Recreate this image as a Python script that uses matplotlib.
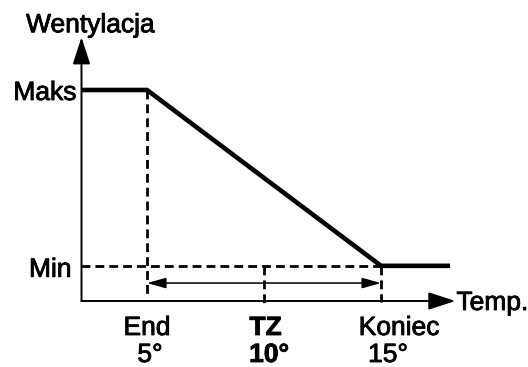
import matplotlib
matplotlib.use("Agg")
import matplotlib.pyplot as plt
import matplotlib.patheffects as pe

plt.rcParams['font.family'] = ['Liberation Sans', 'DejaVu Sans']

# dane wykresu
temp_names = ["End", "TZ", "Koniec"]
temp_values = [5, 10, 15]
temp_bold = [False, True, False]
vent_names = ["Min", "Maks"]
vent_levels = [1, 6]
title_y = "Wentylacja"
title_x = "Temp."

t_end, t_tz, t_kon = temp_values
v_min, v_max = vent_levels

# zakres osi (uklad rysunku)
T0, T1 = 2.2, 18.18      # os pozioma: od osi pionowej do grotu
V1 = 7.5                 # grot osi pionowej
T_TAIL = 17.95           # koniec poziomego odcinka Min
FS = 19

fig = plt.figure(figsize=(5.28, 3.67), dpi=100)
ax = fig.add_axes([0, 0, 1, 1])
ax.set_xlim(-1.282, 21.28)
ax.set_ylim(-1.877, 8.559)
ax.axis('off')

# osie ze strzalkami
axis_arrow = dict(arrowstyle='-|>,head_length=1.66,head_width=0.54', mutation_scale=10,
                  lw=1.4, color='black', shrinkA=0, shrinkB=0)
ax.annotate('', xy=(T0, V1), xytext=(T0, 0), arrowprops=axis_arrow)
ax.annotate('', xy=(T1, 0), xytext=(T0, 0), arrowprops=axis_arrow)

# linie przerywane
dash = dict(color='black', lw=2.0, linestyle=(0, (3.2, 1.8)))
ax.plot([T0, t_kon], [v_min, v_min], **dash)
ax.plot([t_end, t_end], [v_max, 0.17], **dash)
ax.plot([t_tz, t_tz], [v_min, -0.06], **dash)
ax.plot([t_kon, t_kon], [v_min, -0.03], **dash)

# charakterystyka wentylacji
ax.plot([T0, t_end, t_kon, T_TAIL], [v_max, v_max, v_min, v_min],
        color='black', lw=3.3, solid_joinstyle='miter', solid_capstyle='butt')

# strzalka zakresu End - Koniec
ax.annotate('', xy=(t_kon, 0.51), xytext=(t_end, 0.51),
            arrowprops=dict(arrowstyle='<|-|>,head_length=1.15,head_width=0.32',
                            mutation_scale=10, lw=1.1, color='black',
                            shrinkA=0, shrinkB=0))

# opisy
heavy = [pe.withStroke(linewidth=0.6, foreground='black')]

def label(text, xy, off, ha, bold=False):
    ax.annotate(text, xy=xy, xytext=off, textcoords='offset pixels',
                ha=ha, va='baseline', fontsize=FS,
                fontweight='bold' if bold else 'normal', path_effects=heavy)

label(title_y, (T0, V1), (9, 5), 'center')
label(title_x, (T1, 0), (1, -9), 'left')
label(vent_names[1], (T0, v_max), (-5, -10), 'right')
label(vent_names[0], (T0, v_min), (-10, -11), 'right')

name_dx = [0, 1.5, 18]
deg_dx = [3, 5, 7]
for name, t, b, dx1, dx2 in zip(temp_names, temp_values, temp_bold, name_dx, deg_dx):
    label(name, (t, 0), (dx1, -34), 'center', b)
    label(f"{t:g}°", (t, 0), (dx2, -61), 'center', b)

fig.savefig('out.png', dpi=100)
